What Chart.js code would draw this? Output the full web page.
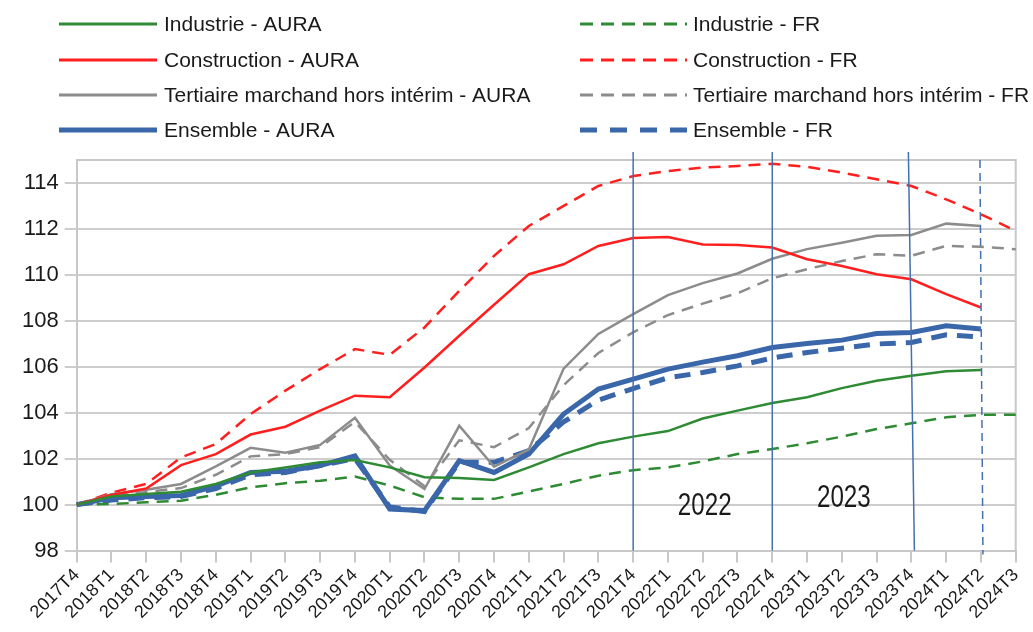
<!DOCTYPE html>
<html lang="fr">
<head>
<meta charset="utf-8">
<title>Emploi salarié AURA / FR</title>
<script src="https://cdn.jsdelivr.net/npm/chart.js@4.4.1/dist/chart.umd.min.js"></script>
<style>
  html, body { margin: 0; padding: 0; background: #fff; }
  #wrap { width: 1033px; height: 632px; position: relative; }
</style>
</head>
<body>
<div id="wrap"><canvas id="chart"></canvas></div>
<script>
// trimestres
const quarters = ['2017T4',
  '2018T1', '2018T2', '2018T3', '2018T4',
  '2019T1', '2019T2', '2019T3', '2019T4',
  '2020T1', '2020T2', '2020T3', '2020T4',
  '2021T1', '2021T2', '2021T3', '2021T4',
  '2022T1', '2022T2', '2022T3', '2022T4',
  '2023T1', '2023T2', '2023T3', '2023T4',
  '2024T1', '2024T2', '2024T3'];

// base 100 au 2017T4
const industrieAura = [100, 100.35, 100.46, 100.56, 100.9, 101.4, 101.62, 101.84, 101.94, 101.62, 101.19, 101.16, 101.07, 101.62, 102.2, 102.67, 102.96, 103.2, 103.75, 104.09, 104.42, 104.67, 105.07, 105.39, 105.61, 105.8, 105.86, null];
const industrieFr = [100, 100.03, 100.1, 100.17, 100.43, 100.75, 100.93, 101.04, 101.22, 100.83, 100.32, 100.25, 100.25, 100.57, 100.9, 101.26, 101.5, 101.62, 101.88, 102.2, 102.42, 102.67, 102.96, 103.29, 103.54, 103.8, 103.91, 103.91];
const constructionAura = [100, 100.42, 100.7, 101.72, 102.2, 103.05, 103.39, 104.09, 104.74, 104.67, 105.97, 107.35, 108.7, 110.03, 110.46, 111.26, 111.6, 111.65, 111.32, 111.3, 111.19, 110.68, 110.39, 110.03, 109.81, 109.16, 108.58, null];
const constructionFr = [100, 100.52, 100.9, 102.05, 102.64, 103.94, 104.96, 105.9, 106.77, 106.52, 107.71, 109.3, 110.83, 112.13, 113.0, 113.87, 114.3, 114.52, 114.67, 114.74, 114.84, 114.7, 114.45, 114.16, 113.87, 113.29, 112.64, 111.91];
const tertiaireAura = [100, 100.45, 100.65, 100.9, 101.66, 102.47, 102.26, 102.6, 103.78, 101.7, 100.68, 103.43, 101.65, 102.4, 105.92, 107.43, 108.29, 109.12, 109.64, 110.06, 110.7, 111.12, 111.4, 111.7, 111.74, 112.23, 112.13, null];
const tertiaireFr = [100, 100.35, 100.55, 100.72, 101.3, 102.1, 102.2, 102.5, 103.6, 101.95, 100.8, 102.8, 102.5, 103.33, 105.2, 106.6, 107.5, 108.25, 108.75, 109.2, 109.85, 110.25, 110.6, 110.9, 110.83, 111.26, 111.22, 111.12];
const ensembleAura = [100, 100.3, 100.35, 100.4, 100.8, 101.4, 101.45, 101.7, 102.12, 99.81, 99.74, 101.91, 101.4, 102.2, 103.94, 105.03, 105.46, 105.9, 106.2, 106.48, 106.84, 107.01, 107.16, 107.45, 107.49, 107.78, 107.64, null];
const ensembleFr = [100, 100.2, 100.3, 100.35, 100.7, 101.3, 101.4, 101.7, 102.0, 99.9, 99.7, 101.85, 101.84, 102.35, 103.6, 104.55, 105.05, 105.52, 105.75, 106.04, 106.38, 106.62, 106.81, 106.99, 107.06, 107.39, 107.3, null];

const yTicks = [98, 100, 102, 104, 106, 108, 110, 112, 114];

// repères verticaux et années
const yearMarks = ['2021T4', '2022T4', '2023T4'];
const lastMark = '2024T2';
const yearLabels = [
  { text: '2022', from: '2021T4', to: '2022T4', y: 99.9 },
  { text: '2023', from: '2022T4', to: '2023T4', y: 100.25 }
];

const GREEN = '#2e8b34', RED = '#ff1f1f', GREY = '#8c8c8c', BLUE = '#3a66aa';
const FONT = "'Liberation Sans', Arial, sans-serif";

function line(label, data, color, dashed, thick) {
  return {
    label: label,
    data: data,
    borderColor: color,
    backgroundColor: color,
    borderWidth: thick ? 5 : 2.5,
    borderDash: dashed ? (thick ? [16, 10] : [12, 8]) : [],
    pointRadius: 0,
    tension: 0,
    fill: false,
    spanGaps: false
  };
}

const datasets = [
  line('Industrie - AURA', industrieAura, GREEN, false, false),
  line('Construction - AURA', constructionAura, RED, false, false),
  line('Tertiaire marchand hors intérim - AURA', tertiaireAura, GREY, false, false),
  line('Ensemble - AURA', ensembleAura, BLUE, false, true),
  line('Industrie - FR', industrieFr, GREEN, true, false),
  line('Construction - FR', constructionFr, RED, true, false),
  line('Tertiaire marchand hors intérim - FR', tertiaireFr, GREY, true, false),
  line('Ensemble - FR', ensembleFr, BLUE, true, true)
];

// légende sur deux colonnes (AURA à gauche, FR à droite)
const legendPlugin = {
  id: 'twoColLegend',
  afterDraw(chart) {
    const ctx = chart.ctx;
    const cols = [{ x0: 59, x1: 157, tx: 164 }, { x0: 580, x1: 687, tx: 693 }];
    const rows = [24, 60, 95, 130];
    ctx.save();
    ctx.font = '21px ' + FONT;
    ctx.textBaseline = 'middle';
    ctx.fillStyle = '#1a1a1a';
    chart.data.datasets.forEach((ds, i) => {
      const c = cols[Math.floor(i / 4)];
      const y = rows[i % 4];
      ctx.beginPath();
      ctx.strokeStyle = ds.borderColor;
      ctx.lineWidth = ds.borderWidth >= 5 ? 5 : 3;
      ctx.setLineDash(ds.borderDash.length ? (ds.borderWidth >= 5 ? [17, 13] : [13, 8]) : []);
      ctx.moveTo(c.x0, y);
      ctx.lineTo(c.x1, y);
      ctx.stroke();
      ctx.fillText(ds.label, c.tx, y + 1);
    });
    ctx.restore();
  }
};

// cadre, repères annuels, étiquettes d'années
const marksPlugin = {
  id: 'yearMarks',
  beforeDatasetsDraw(chart) {
    const { ctx, chartArea } = chart;
    ctx.save();
    ctx.strokeStyle = '#c8c8c8';
    ctx.lineWidth = 2;
    ctx.beginPath();
    ctx.moveTo(chartArea.left, chartArea.top);
    ctx.lineTo(chartArea.right, chartArea.top);
    ctx.lineTo(chartArea.right, chartArea.bottom);
    ctx.stroke();
    ctx.restore();
  },
  afterDatasetsDraw(chart) {
    const { ctx, chartArea } = chart;
    const xs = chart.scales.x, ys = chart.scales.y;
    ctx.save();
    ctx.strokeStyle = '#4470b0';
    ctx.lineWidth = 1.5;
    yearMarks.forEach((q, k) => {
      const x = xs.getPixelForValue(quarters.indexOf(q));
      const slant = k === 2 ? 3 : 0;
      ctx.beginPath();
      ctx.moveTo(x - slant, chartArea.top - 8);
      ctx.lineTo(x + slant, chartArea.bottom);
      ctx.stroke();
    });
    const xl = xs.getPixelForValue(quarters.indexOf(lastMark));
    ctx.setLineDash([8, 5]);
    ctx.beginPath();
    ctx.moveTo(xl - 1, chartArea.top);
    ctx.lineTo(xl + 2, chartArea.bottom + 4);
    ctx.stroke();
    ctx.setLineDash([]);

    ctx.fillStyle = '#1a1a1a';
    ctx.font = '31px ' + FONT;
    ctx.textAlign = 'center';
    ctx.textBaseline = 'middle';
    yearLabels.forEach(l => {
      const x = (xs.getPixelForValue(quarters.indexOf(l.from)) + xs.getPixelForValue(quarters.indexOf(l.to))) / 2;
      const y = ys.getPixelForValue(l.y);
      // police étroite : on resserre horizontalement
      ctx.save();
      ctx.translate(x + 2, y);
      ctx.scale(0.78, 1);
      ctx.fillText(l.text, 0, 0);
      ctx.restore();
    });
    ctx.restore();
  }
};

new Chart(document.getElementById('chart'), {
  type: 'line',
  data: { labels: quarters, datasets: datasets },
  plugins: [legendPlugin, marksPlugin],
  options: {
    responsive: true,
    maintainAspectRatio: false,
    animation: false,
    events: [],
    layout: { padding: { top: 160, right: 4, left: 16, bottom: 7 } },
    plugins: { legend: { display: false }, tooltip: { enabled: false } },
    scales: {
      x: {
        grid: { drawOnChartArea: false, color: '#c8c8c8', lineWidth: 2, tickLength: 12 },
        border: { color: '#c8c8c8', width: 2 },
        ticks: {
          autoSkip: false, minRotation: 45, maxRotation: 45,
          color: '#1a1a1a', font: { family: FONT, size: 18 }, padding: 2
        }
      },
      y: {
        min: 98, max: 115,
        afterBuildTicks: (scale) => { scale.ticks = yTicks.map(v => ({ value: v })); },
        grid: { color: '#cdcdcd', lineWidth: 2, tickLength: 12 },
        border: { color: '#c8c8c8', width: 2 },
        ticks: { color: '#1a1a1a', font: { family: FONT, size: 22 }, padding: 6 }
      }
    }
  }
});
</script>
</body>
</html>
